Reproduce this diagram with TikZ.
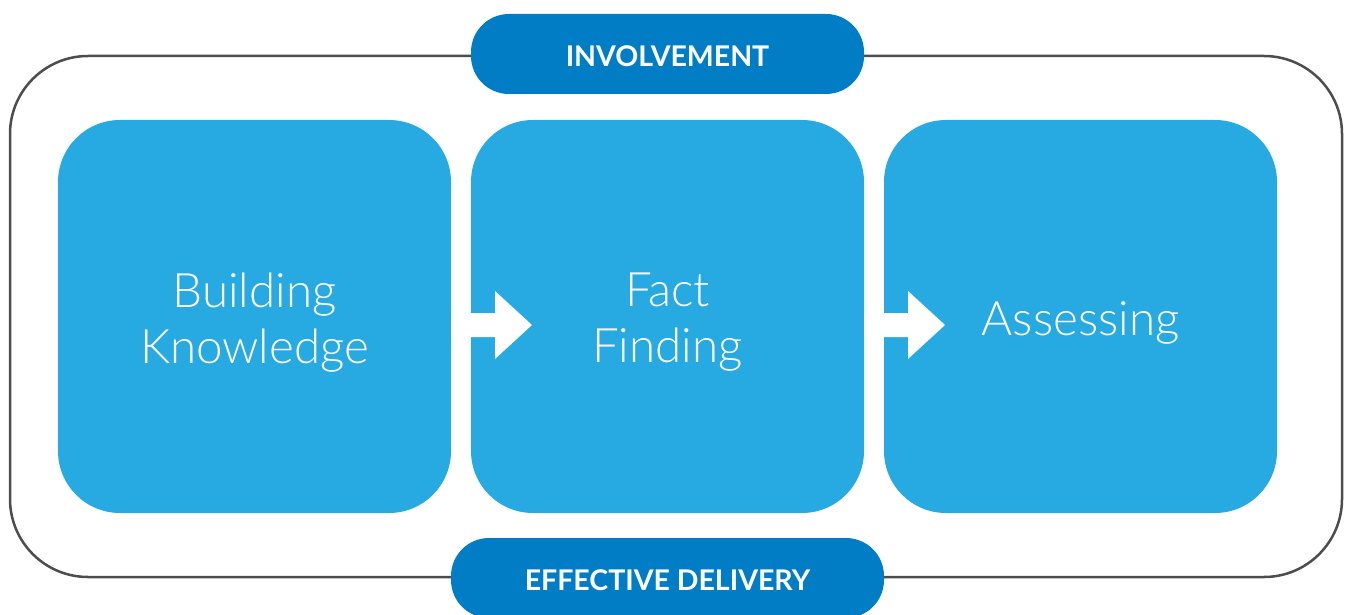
\documentclass[tikz,border=0pt]{standalone}
\usepackage{fontspec}
\newfontfamily\boxfont{Lato}[UprightFont=* Light]
\newfontfamily\pillfont{Lato}[UprightFont=* Bold]
\definecolor{stepblue}{HTML}{27A9E1}
\definecolor{pillblue}{HTML}{007DC5}
\definecolor{framegray}{HTML}{4D4D4D}
\begin{document}
\begin{tikzpicture}[x=1pt,y=-1pt,
  stepbox/.style={fill=stepblue, rounded corners=62pt, minimum width=393pt, minimum height=393pt, inner sep=0pt},
  steplabel/.style={text=white, font=\boxfont\fontsize{47.5}{56}\selectfont, align=center, inner sep=0pt},
  pill/.style={fill=pillblue, rounded corners=38pt, minimum height=80pt, inner sep=0pt},
  pilllabel/.style={text=white, font=\pillfont\fontsize{28.5}{32}\selectfont, inner sep=0pt},
  flowarrow/.style={fill=white, draw=none}]
\useasboundingbox (0,0) rectangle (1346,615);
\clip (0,0) rectangle (1346,615);
% outer frame
\draw[framegray, line width=2.5pt, rounded corners=78pt] (10,56) rectangle (1342,577);
% process steps
\node[stepbox] (b1) at (254.5,316.5) {};
\node[stepbox] (b2) at (667.5,316.5) {};
\node[stepbox] (b3) at (1080.5,316.5) {};
\node[steplabel] (t1) at ([yshift=-6pt]b1.center) {Building\\Knowledge};
\node[steplabel] (t2) at ([yshift=-6pt]b2.center) {Fact\\Finding};
\node[steplabel] (t3) at ([yshift=-6pt]b3.center) {Assessing};
% arrows between steps
\fill[flowarrow] (b1.east |- 0,313) -- (495,313) -- (495,291) -- (532,325) -- (495,359) -- (495,337) -- (b1.east |- 0,337) -- cycle;
\fill[flowarrow] (b2.east |- 0,313) -- (908,313) -- (908,291) -- (945,325) -- (908,359) -- (908,337) -- (b2.east |- 0,337) -- cycle;
% banner labels
\node[pill, minimum width=393pt] (inv) at (667.5,54) {};
\node[pill, minimum width=433pt] (eff) at (667.5,578) {};
\node[pilllabel] (invt) at ([yshift=-2pt]inv.center) {INVOLVEMENT};
\node[pilllabel] (efft) at ([yshift=-2pt]eff.center) {EFFECTIVE DELIVERY};
\end{tikzpicture}
\end{document}
